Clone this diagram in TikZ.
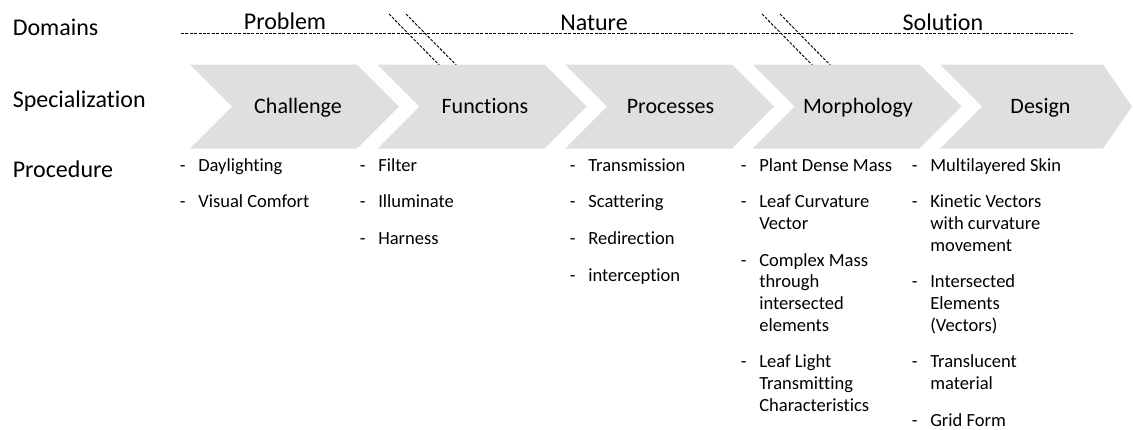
\documentclass[tikz,border=0pt]{standalone}
\usepackage{fontspec}
\setmainfont{Carlito}[Ligatures=NoCommon]
\usepackage{xcolor}
\usepackage{tikz}
\definecolor{chevgray}{RGB}{223,223,223}

\begin{document}
\begin{tikzpicture}[
    x=0.75pt, y=-0.75pt,
    rowlabel/.style={font=\fontsize{18}{21}\selectfont, anchor=base west, inner sep=0pt},
    domname/.style={font=\fontsize{18}{21}\selectfont, anchor=base, inner sep=0pt},
    chevlabel/.style={font=\fontsize{16.5}{19}\selectfont, anchor=base, inner sep=0pt},
    itemlist/.style={font=\fontsize{13.9}{16.3}\selectfont, anchor=base west, inner sep=0pt},
    domline/.style={dash pattern=on 2.2pt off 1.1pt, line width=0.7pt}
]
\useasboundingbox (0,0) rectangle (1133,429);

% Row labels
\node[rowlabel] (domains) at (12.5,35) {Domains};
\node[rowlabel] (special) at (12.5,107) {Specialization};
\node[rowlabel] (proc) at (12.5,177) {Procedure};

% Domains line
\coordinate (dl) at (181,33);
\coordinate (dr) at (1073,33);
\draw[domline] (dl) -- (dr);
\foreach \x in {389,406,762,780}
    \draw[domline] (\x,14) -- ++(59,60);
\node[domname] (problem) at (285,29.5) {Problem};
\node[domname] (nature) at (594,30) {Nature};
\node[domname] (solution) at (943,30) {Solution};

% Chevrons
\foreach \x in {190,377.5,565,752.5}
    \fill[chevgray] (\x,64.5) -- ++(167,0) -- ++(42,42) -- ++(-42,42)
        -- ++(-167,0) -- ++(42,-42) -- cycle;
\fill[chevgray] (940,64.5) -- (1103,64.5) -- (1132,106.5) -- (1103,148.5)
    -- (940,148.5) -- (982,106.5) -- cycle;

\node[chevlabel] (challenge) at (298,113) {Challenge};
\node[chevlabel] (functions) at (485,113) {Functions};
\node[chevlabel] (processes) at (670.5,113) {Processes};
\node[chevlabel] (morphology) at (858,113) {Morphology};
\node[chevlabel] (design) at (1040.5,113) {Design};

% Procedure lists
\node[itemlist] (list1) at (179.5,171) {\begin{tabular}[t]{@{}p{13.9pt}@{}l@{}}
- & Daylighting\\[11.2pt]
- & Visual Comfort
\end{tabular}};
\node[itemlist] (list2) at (359.5,171) {\begin{tabular}[t]{@{}p{13.9pt}@{}l@{}}
- & Filter\\[11.2pt]
- & Illuminate\\[11.2pt]
- & Harness
\end{tabular}};
\node[itemlist] (list3) at (569.5,171) {\begin{tabular}[t]{@{}p{13.9pt}@{}l@{}}
- & Transmission\\[11.2pt]
- & Scattering\\[11.2pt]
- & Redirection\\[11.2pt]
- & interception
\end{tabular}};
\node[itemlist] (list4) at (740.5,171) {\begin{tabular}[t]{@{}p{13.9pt}@{}l@{}}
- & Plant Dense Mass\\[11.2pt]
- & Leaf Curvature\\
  & Vector\\[11.2pt]
- & Complex Mass\\
  & through\\
  & intersected\\
  & elements\\[11.2pt]
- & Leaf Light\\
  & Transmitting\\
  & Characteristics
\end{tabular}};
\node[itemlist] (list5) at (911.5,171) {\begin{tabular}[t]{@{}p{13.9pt}@{}l@{}}
- & Multilayered Skin\\[11.2pt]
- & Kinetic Vectors\\
  & with curvature\\
  & movement\\[11.2pt]
- & Intersected\\
  & Elements\\
  & (Vectors)\\[11.2pt]
- & Translucent\\
  & material\\[11.2pt]
- & Grid Form
\end{tabular}};

\end{tikzpicture}
\end{document}
